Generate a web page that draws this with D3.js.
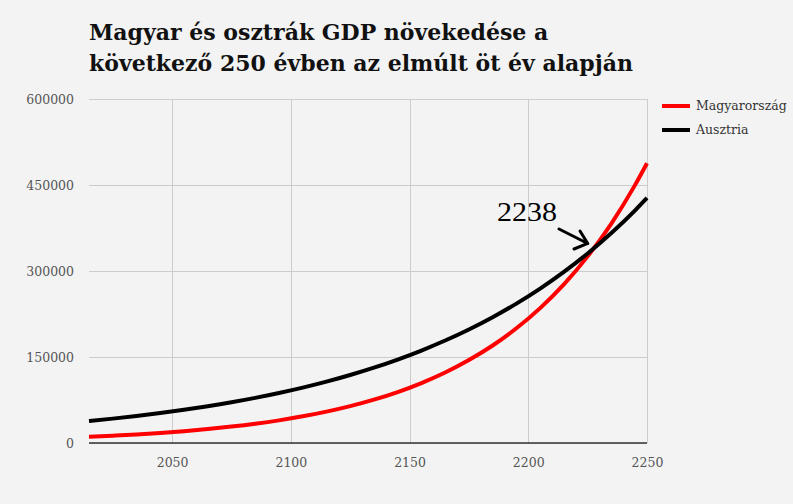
<!DOCTYPE html>
<html>
<head>
<meta charset="utf-8">
<script src="https://cdn.jsdelivr.net/npm/d3@7"></script>
<style>
  html, body { margin: 0; padding: 0; background: #f3f3f3; }
  svg { display: block; }
</style>
</head>
<body>
<svg id="chart" width="793" height="504"></svg>
<script>
// ---- data ----
const years = [2015, 2025, 2035, 2045, 2055, 2065, 2075, 2085, 2095, 2105, 2115, 2125,
               2135, 2145, 2155, 2165, 2175, 2185, 2195, 2205, 2215, 2225, 2235, 2245, 2250];
const hungary = [10800, 12700, 14900, 17600, 20700, 24300, 28600, 33600, 39500, 46500, 54700, 64300,
                 75600, 88900, 104600, 123000, 144700, 170100, 200100, 235300, 276700, 325500, 382800, 450200, 488000];
const austria = [38400, 42500, 47100, 52200, 57900, 64100, 71000, 78700, 87200, 96600, 107000, 118600,
                 131400, 145600, 161300, 178700, 198000, 219400, 243100, 269300, 298400, 330600, 366300, 405900, 427500];
const seriesNames = ["Magyarország", "Ausztria"];
const seriesColors = ["#ff0000", "#000000"];
const xTicks = [2050, 2100, 2150, 2200, 2250];
const yTicks = [0, 150000, 300000, 450000, 600000];
const titleLines = ["Magyar és osztrák GDP növekedése a", "következő 250 évben az elmúlt öt év alapján"];
const annotationLabel = "2238";
const crossYear = 2228;

// ---- layout ----
const svg = d3.select("#chart");
const W = 793, H = 504;
const margin = { left: 89, right: 146, top: 99, bottom: 61 };
const plotW = W - margin.left - margin.right;   // 558
const plotH = H - margin.top - margin.bottom;   // 344

svg.append("rect").attr("width", W).attr("height", H).attr("fill", "#f3f3f3");

const x = d3.scaleLinear().domain([2015, 2250]).range([margin.left, margin.left + plotW]);
const y = d3.scaleLinear().domain([0, 600000]).range([margin.top + plotH, margin.top]);

// title
const title = svg.append("text")
  .attr("font-family", "'DejaVu Serif', serif")
  .attr("font-weight", "bold")
  .attr("font-size", 22)
  .attr("fill", "#111");
titleLines.forEach((t, i) => {
  title.append("tspan").attr("x", 89).attr("y", 40 + i * 31).text(t);
});

const tickFont = "'DejaVu Serif', serif";

// horizontal grid + y labels
const yAxis = d3.axisLeft(y).tickValues(yTicks).tickSize(-plotW).tickFormat(d3.format("d")).tickPadding(15);
const gy = svg.append("g").attr("transform", `translate(${margin.left},0)`).call(yAxis);
gy.select(".domain").remove();
gy.selectAll(".tick line").attr("stroke", "#cccccc").attr("stroke-width", 1)
  .attr("shape-rendering", "crispEdges");
gy.selectAll(".tick text").attr("fill", "#555").attr("font-size", 12.5).attr("font-family", tickFont);

// vertical grid + x labels
const xAxis = d3.axisBottom(x).tickValues(xTicks).tickSize(-plotH).tickFormat(d3.format("d")).tickPadding(15);
const gx = svg.append("g").attr("transform", `translate(0,${margin.top + plotH})`).call(xAxis);
gx.select(".domain").remove();
gx.selectAll(".tick line").attr("stroke", "#cccccc").attr("stroke-width", 1)
  .attr("shape-rendering", "crispEdges");
gx.selectAll(".tick text").attr("fill", "#555").attr("font-size", 12.5).attr("font-family", tickFont);

// baseline axis
svg.append("line")
  .attr("x1", x(2015)).attr("x2", x(2250))
  .attr("y1", y(0)).attr("y2", y(0))
  .attr("stroke", "#333").attr("stroke-width", 1.5);

// lines
const seriesData = [hungary, austria];
const line = d3.line().x((d, i) => x(years[i])).y(d => y(d)).curve(d3.curveMonotoneX);
[0, 1].forEach(k => {
  svg.append("path")
    .datum(seriesData[k])
    .attr("d", line)
    .attr("fill", "none")
    .attr("stroke", seriesColors[k])
    .attr("stroke-width", 4)
    .attr("stroke-linejoin", "round");
});

// legend
seriesNames.forEach((name, i) => {
  const ly = 106 + i * 24;
  svg.append("line").attr("x1", 662).attr("x2", 690).attr("y1", ly).attr("y2", ly)
    .attr("stroke", seriesColors[i]).attr("stroke-width", 4);
  svg.append("text").attr("x", 696).attr("y", ly + 4)
    .attr("font-family", tickFont).attr("font-size", 12.5).attr("fill", "#333").text(name);
});

// annotation
svg.append("text")
  .attr("x", 497).attr("y", 221)
  .attr("font-family", "'Liberation Serif', serif")
  .attr("font-size", 27)
  .attr("textLength", 60)
  .attr("lengthAdjust", "spacingAndGlyphs")
  .attr("fill", "#000")
  .text(annotationLabel);

const tip = [x(crossYear) - 7, y(348000)];
svg.append("path")
  .attr("d", `M559,229 L${tip[0]},${tip[1]} M580,231 L${tip[0]},${tip[1]} L574,249`)
  .attr("fill", "none").attr("stroke", "#000").attr("stroke-width", 3)
  .attr("stroke-linecap", "round").attr("stroke-linejoin", "round");
</script>
</body>
</html>
